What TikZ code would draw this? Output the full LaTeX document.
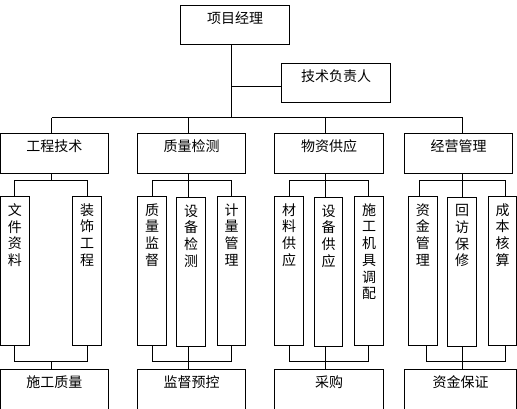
\documentclass[tikz,border=0pt]{standalone}
\usepackage{fontspec}
\newfontfamily\cjk{Noto Sans CJK SC}
\begin{document}
\begin{tikzpicture}[x=1pt,y=-1pt,line width=1pt,
  box/.style={draw,rectangle,inner sep=0pt,outer sep=0pt,anchor=north west},
  txt/.style={inner sep=0pt,anchor=base,font=\cjk\fontsize{14}{16.7}\selectfont},
  vtxt/.style={inner sep=0pt,anchor=north,align=center,font=\cjk\fontsize{14}{16.7}\selectfont}]
\useasboundingbox (0,0) rectangle (517,408);
\clip (0,0) rectangle (517,408);
% top level
\node[box,minimum width=109pt,minimum height=39pt] (pm) at (180.5,5.5) {};
\node[txt] (pmt) at ([yshift=-18pt]pm.north) {项目经理};
\node[box,minimum width=109pt,minimum height=39pt] (tech) at (281.5,63.5) {};
\node[txt] (techt) at ([yshift=-18pt]tech.north) {技术负责人};
% level 2
\node[box,minimum width=108pt,minimum height=40pt] (c1) at (0.5,133.5) {};
\node[box,minimum width=108pt,minimum height=40pt] (c2) at (137.5,133.5) {};
\node[box,minimum width=109pt,minimum height=40pt] (c3) at (274.5,133.5) {};
\node[box,minimum width=108pt,minimum height=40pt] (c4) at (404.5,133.5) {};
\node[txt] (c1t) at ([yshift=-18pt]c1.north) {工程技术};
\node[txt] (c2t) at ([yshift=-18pt]c2.north) {质量检测};
\node[txt] (c3t) at ([yshift=-18pt]c3.north) {物资供应};
\node[txt] (c4t) at ([yshift=-18pt]c4.north) {经营管理};
% sub boxes
\node[box,minimum width=29pt,minimum height=149pt] (s11) at (0.5,196.5) {};
\node[box,minimum width=29pt,minimum height=149pt] (s12) at (72.5,196.5) {};
\node[box,minimum width=29pt,minimum height=149pt] (s21) at (137.5,196.5) {};
\node[box,minimum width=29pt,minimum height=149pt] (s22) at (176.5,197.5) {};
\node[box,minimum width=28pt,minimum height=149pt] (s23) at (217.5,196.5) {};
\node[box,minimum width=29pt,minimum height=149pt] (s31) at (274.5,196.5) {};
\node[box,minimum width=28pt,minimum height=149pt] (s32) at (314.5,197.5) {};
\node[box,minimum width=29pt,minimum height=149pt] (s33) at (354.5,196.5) {};
\node[box,minimum width=28.5pt,minimum height=149pt] (s41) at (408.5,196.5) {};
\node[box,minimum width=29pt,minimum height=149pt] (s42) at (447.5,197.5) {};
\node[box,minimum width=28pt,minimum height=149pt] (s43) at (488.5,196.5) {};
\node[vtxt] (s11t) at ([yshift=-6.5pt]s11.north) {文\\件\\资\\料};
\node[vtxt] (s12t) at ([yshift=-6.5pt]s12.north) {装\\饰\\工\\程};
\node[vtxt] (s21t) at ([yshift=-6.5pt]s21.north) {质\\量\\监\\督};
\node[vtxt] (s22t) at ([yshift=-6.5pt]s22.north) {设\\备\\检\\测};
\node[vtxt] (s23t) at ([yshift=-6.5pt]s23.north) {计\\量\\管\\理};
\node[vtxt] (s31t) at ([yshift=-6.5pt]s31.north) {材\\料\\供\\应};
\node[vtxt] (s32t) at ([yshift=-6.5pt]s32.north) {设\\备\\供\\应};
\node[vtxt] (s33t) at ([yshift=-6.5pt]s33.north) {施\\工\\机\\具\\调\\配};
\node[vtxt] (s41t) at ([yshift=-6.5pt]s41.north) {资\\金\\管\\理};
\node[vtxt] (s42t) at ([yshift=-6.5pt]s42.north) {回\\访\\保\\修};
\node[vtxt] (s43t) at ([yshift=-6.5pt]s43.north) {成\\本\\核\\算};
% bottom boxes
\node[box,minimum width=108pt,minimum height=50pt] (d1) at (0.5,369.5) {};
\node[box,minimum width=108pt,minimum height=50pt] (d2) at (137.5,369.5) {};
\node[box,minimum width=109pt,minimum height=50pt] (d3) at (274.5,369.5) {};
\node[box,minimum width=112pt,minimum height=50pt] (d4) at (404.5,369.5) {};
\node[txt] (d1t) at ([yshift=-18pt]d1.north) {施工质量};
\node[txt] (d2t) at ([yshift=-18pt]d2.north) {监督预控};
\node[txt] (d3t) at ([yshift=-18pt]d3.north) {采购};
\node[txt] (d4t) at ([yshift=-18pt]d4.north) {资金保证};
% top connectors
\coordinate (j0) at (231.5,117.5);
\coordinate (j1) at (231.5,86.5);
\draw (pm.south -| j0) -- (j0);
\draw (j1) -- (j1 -| tech.west);
\coordinate (b1) at (51.5,117.5);
\coordinate (b2) at (188.5,117.5);
\coordinate (b3) at (325.5,117.5);
\coordinate (b4) at (462.5,117.5);
\draw (b1) -- (b4);
\draw (b1) -- (b1 |- c1.north);
\draw (b2) -- (b2 |- c2.north);
\draw (b3) -- (b3 |- c3.north);
\draw (b4) -- (b4 |- c4.north);
% group 1
\coordinate (g1c) at (51.5,180.5);
\coordinate (g1l) at (14.5,180.5);
\coordinate (g1r) at (87.5,180.5);
\draw (g1c |- c1.south) -- (g1c);
\draw (g1l |- s11.north) -- (g1l) -- (g1r) -- (g1r |- s12.north);
\coordinate (h1c) at (51.5,361.5);
\coordinate (h1l) at (14.5,361.5);
\coordinate (h1r) at (87.5,361.5);
\draw (h1l |- s11.south) -- (h1l) -- (h1r) -- (h1r |- s12.south);
\draw (h1c) -- (h1c |- d1.north);
% group 2
\coordinate (g2c) at (188.5,180.5);
\coordinate (g2l) at (152.5,180.5);
\coordinate (g2r) at (231.5,180.5);
\draw (g2c |- c2.south) -- (g2c |- s22.north);
\draw (g2l |- s21.north) -- (g2l) -- (g2r) -- (g2r |- s23.north);
\coordinate (h2c) at (188.5,361.5);
\coordinate (h2l) at (152.5,361.5);
\coordinate (h2r) at (231.5,361.5);
\draw (h2l |- s21.south) -- (h2l) -- (h2r) -- (h2r |- s23.south);
\draw (h2c |- s22.south) -- (h2c |- d2.north);
% group 3
\coordinate (g3c) at (325.5,180.5);
\coordinate (g3l) at (289.5,180.5);
\coordinate (g3r) at (368.5,180.5);
\draw (g3c |- c3.south) -- (g3c |- s32.north);
\draw (g3l |- s31.north) -- (g3l) -- (g3r) -- (g3r |- s33.north);
\coordinate (h3c) at (325.5,361.5);
\coordinate (h3l) at (289.5,361.5);
\coordinate (h3r) at (368.5,361.5);
\draw (h3l |- s31.south) -- (h3l) -- (h3r) -- (h3r |- s33.south);
\draw (h3c |- s32.south) -- (h3c |- d3.north);
% group 4
\coordinate (g4c) at (462.5,180.5);
\coordinate (g4l) at (419.5,180.5);
\coordinate (g4r) at (505.5,180.5);
\draw (g4c |- c4.south) -- (g4c |- s42.north);
\draw (g4l |- s41.north) -- (g4l) -- (g4r) -- (g4r |- s43.north);
\coordinate (h4c) at (462.5,361.5);
\coordinate (h4l) at (426.5,361.5);
\coordinate (h4r) at (505.5,361.5);
\draw (h4l |- s41.south) -- (h4l) -- (h4r) -- (h4r |- s43.south);
\draw (h4c |- s42.south) -- (h4c |- d4.north);
\end{tikzpicture}
\end{document}
